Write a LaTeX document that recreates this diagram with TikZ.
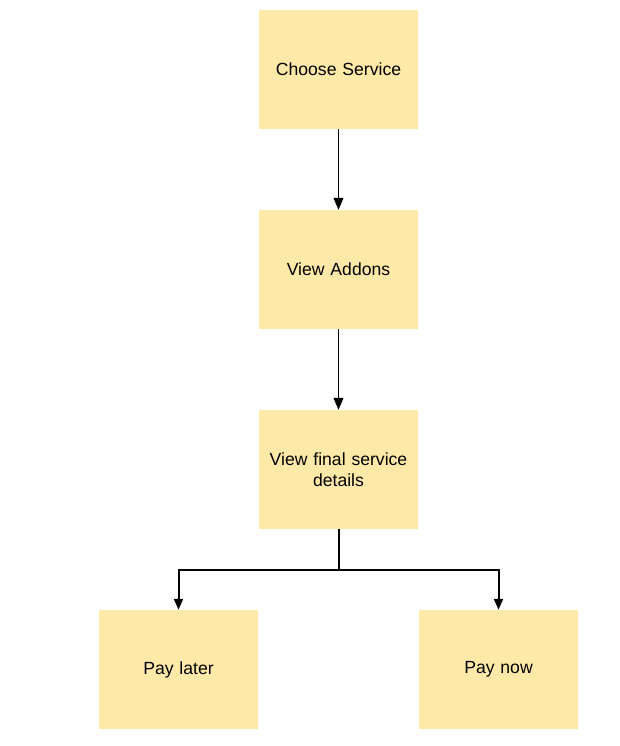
\documentclass[tikz,border=0pt]{standalone}
\usepackage{fontspec}
\setmainfont{Liberation Sans}
\usetikzlibrary{arrows.meta}
\definecolor{sticky}{HTML}{FFE9A8}
\begin{document}
\begin{tikzpicture}[x=1pt,y=-1pt,
  box/.style={fill=sticky,draw=none,minimum width=159pt,minimum height=119pt,inner sep=0pt,align=center,text width=150pt,font=\fontsize{17.6}{21.5}\selectfont},
  thinarr/.style={draw=black,line width=1pt,-{Triangle[length=12pt,width=10pt]}},
  thickarr/.style={draw=black,line width=2pt,-{Triangle[length=11pt,width=9pt]}}]
\useasboundingbox (0,0) rectangle (619,746);
\node[box] (choose) at (338.5,69.5) {\raisebox{1pt}{Choose Service}};
\node[box] (addons) at (338.5,269.5) {\raisebox{1pt}{View Addons}};
\node[box] (final) at (338.5,469.5) {View final service\\details};
\node[box] (later) at (178.5,669.5) {Pay later};
\node[box] (now) at (498.5,669.5) {Pay now};
\draw[thinarr] (choose.south) -- (addons.north);
\draw[thinarr] (addons.south) -- (final.north);
\coordinate (split) at (338.5,570);
\draw[thickarr] (final.south) -- (split) -| (later.north);
\draw[thickarr] (split) -| (now.north);
\end{tikzpicture}
\end{document}
